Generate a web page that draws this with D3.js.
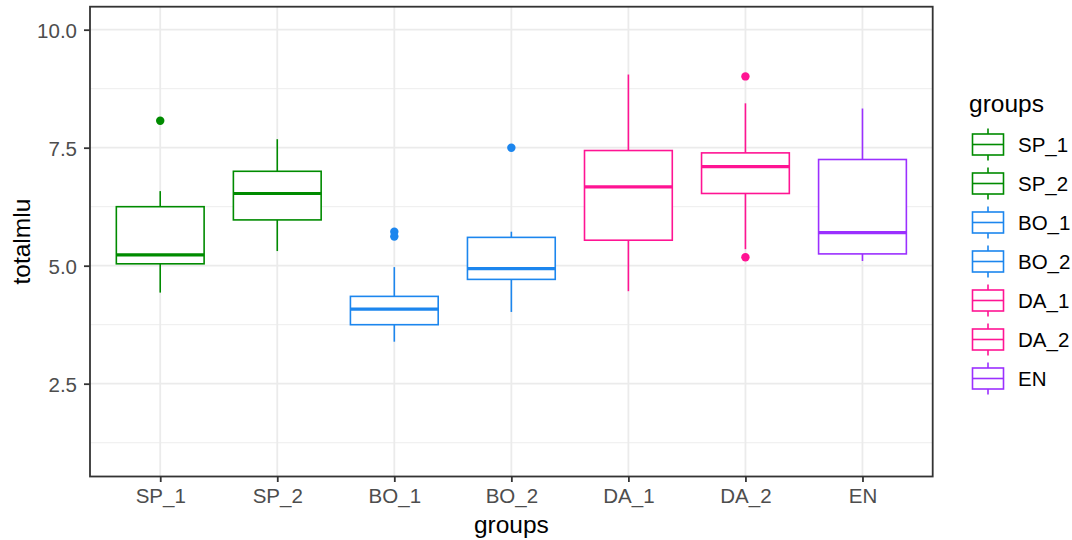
<!DOCTYPE html>
<html lang="en-US">
<head>
  <meta charset="UTF-8"/>
  <title>totalmlu by groups</title>
  <style>
    body { margin: 0; background: #fff; }
    svg text { font-family: "Liberation Sans", Arial, sans-serif; }
  </style>
</head>
<body>
<svg id="chart" width="1072" height="540"></svg>
<script src="https://cdn.jsdelivr.net/npm/d3@7"></script>
<script>
// data
var groups      = ["SP_1", "SP_2", "BO_1", "BO_2", "DA_1", "DA_2", "EN"];
var colors      = ["#008B00", "#008B00", "#1C86EE", "#1C86EE", "#FF1493", "#FF1493", "#9B30FF"];
var lowWhisker  = [4.43, 5.31, 3.39, 4.02, 4.46, 5.35, 5.10];
var q1          = [5.04, 5.97, 3.75, 4.71, 5.54, 6.53, 5.25];
var median      = [5.23, 6.53, 4.08, 4.94, 6.67, 7.10, 5.70];
var q3          = [6.25, 7.00, 4.35, 5.60, 7.44, 7.39, 7.25];
var highWhisker = [6.58, 7.68, 4.97, 5.72, 9.05, 8.44, 8.33];
var outliers    = [[8.07], [], [5.72, 5.62], [7.50], [], [9.01, 5.18], []];
var yTicks      = [2.5, 5.0, 7.5, 10.0];
var yMinor      = [1.25, 3.75, 6.25, 8.75];

// panel box
var panel = {left: 90, right: 932.7, top: 6.7, bottom: 476.5};

var svg = d3.select("#chart");

var x = d3.scalePoint().domain(groups).range([panel.left, panel.right]).padding(0.6);
var y = d3.scaleLinear().domain([0.534, 10.487]).range([panel.bottom, panel.top]);
var step = x.step();
var boxW = step * 0.75;

var boxes = groups.map(function(g, i) {
  return {g: g, c: colors[i], lo: lowWhisker[i], q1: q1[i], med: median[i],
          q3: q3[i], hi: highWhisker[i], out: outliers[i]};
});

// grid
var grid = svg.append("g");
grid.selectAll(".minor").data(yMinor).enter().append("line")
    .attr("x1", panel.left).attr("x2", panel.right)
    .attr("y1", function(d) { return y(d); }).attr("y2", function(d) { return y(d); })
    .attr("stroke", "#EBEBEB").attr("stroke-width", 0.9);
grid.selectAll(".major").data(yTicks).enter().append("line")
    .attr("x1", panel.left).attr("x2", panel.right)
    .attr("y1", function(d) { return y(d); }).attr("y2", function(d) { return y(d); })
    .attr("stroke", "#EBEBEB").attr("stroke-width", 1.8);
grid.selectAll(".vmajor").data(groups).enter().append("line")
    .attr("y1", panel.top).attr("y2", panel.bottom)
    .attr("x1", function(d) { return x(d); }).attr("x2", function(d) { return x(d); })
    .attr("stroke", "#EBEBEB").attr("stroke-width", 1.8);

// boxplots
var bx = svg.append("g").selectAll("g").data(boxes).enter().append("g");
bx.append("line")
    .attr("x1", function(d) { return x(d.g); }).attr("x2", function(d) { return x(d.g); })
    .attr("y1", function(d) { return y(d.hi); }).attr("y2", function(d) { return y(d.q3); })
    .attr("stroke", function(d) { return d.c; }).attr("stroke-width", 1.6);
bx.append("line")
    .attr("x1", function(d) { return x(d.g); }).attr("x2", function(d) { return x(d.g); })
    .attr("y1", function(d) { return y(d.q1); }).attr("y2", function(d) { return y(d.lo); })
    .attr("stroke", function(d) { return d.c; }).attr("stroke-width", 1.6);
bx.append("rect")
    .attr("x", function(d) { return x(d.g) - boxW / 2; })
    .attr("width", boxW)
    .attr("y", function(d) { return y(d.q3); })
    .attr("height", function(d) { return y(d.q1) - y(d.q3); })
    .attr("fill", "#fff")
    .attr("stroke", function(d) { return d.c; }).attr("stroke-width", 1.6);
bx.append("line")
    .attr("x1", function(d) { return x(d.g) - boxW / 2; }).attr("x2", function(d) { return x(d.g) + boxW / 2; })
    .attr("y1", function(d) { return y(d.med); }).attr("y2", function(d) { return y(d.med); })
    .attr("stroke", function(d) { return d.c; }).attr("stroke-width", 3.2);
bx.selectAll("circle").data(function(d) { return d.out.map(function(v) { return {g: d.g, c: d.c, v: v}; }); })
  .enter().append("circle")
    .attr("cx", function(d) { return x(d.g); })
    .attr("cy", function(d) { return y(d.v); })
    .attr("r", 4.2)
    .attr("fill", function(d) { return d.c; });

// panel border
svg.append("rect")
    .attr("x", panel.left).attr("y", panel.top)
    .attr("width", panel.right - panel.left).attr("height", panel.bottom - panel.top)
    .attr("fill", "none").attr("stroke", "#333333").attr("stroke-width", 1.8);

// axes
var yAxis = svg.append("g")
    .attr("transform", "translate(" + panel.left + ",0)")
    .call(d3.axisLeft(y).tickValues(yTicks).tickFormat(d3.format(".1f")).tickSizeInner(6).tickSizeOuter(0).tickPadding(7));
var xAxis = svg.append("g")
    .attr("transform", "translate(0," + panel.bottom + ")")
    .call(d3.axisBottom(x).tickSizeInner(5.5).tickSizeOuter(0).tickPadding(6));
[xAxis, yAxis].forEach(function(a) {
  a.select(".domain").remove();
  a.selectAll(".tick line").attr("stroke", "#333333").attr("stroke-width", 1.8);
  a.selectAll(".tick text").attr("fill", "#4D4D4D").style("font-size", "20.5px")
    .style("font-family", "'Liberation Sans', Arial, sans-serif");
});
yAxis.selectAll(".tick text").attr("dy", "0.36em");
xAxis.selectAll(".tick text").attr("dy", "0.71em");

// axis titles
svg.append("text")
    .attr("x", (panel.left + panel.right) / 2).attr("y", 533)
    .attr("text-anchor", "middle").style("font-size", "24.5px").attr("fill", "#000")
    .text("groups");
svg.append("text")
    .attr("transform", "translate(30," + (panel.top + panel.bottom) / 2 + ") rotate(-90)")
    .attr("text-anchor", "middle").style("font-size", "24.5px").attr("fill", "#000")
    .text("totalmlu");

// legend
var legend = svg.append("g");
legend.append("text").attr("x", 969).attr("y", 111.5)
    .style("font-size", "24.5px").attr("fill", "#000").text("groups");
var keyY = d3.scalePoint().domain(groups).range([144.5, 378.5]);
var key = legend.selectAll(".key").data(boxes).enter().append("g")
    .attr("transform", function(d) { return "translate(988," + keyY(d.g) + ")"; });
key.append("line").attr("x1", 0).attr("x2", 0).attr("y1", -16).attr("y2", 16)
    .attr("stroke", function(d) { return d.c; }).attr("stroke-width", 1.6);
key.append("rect").attr("x", -15.5).attr("y", -10.5).attr("width", 31).attr("height", 21)
    .attr("fill", "#fff").attr("stroke", function(d) { return d.c; }).attr("stroke-width", 1.6);
key.append("line").attr("x1", -15.5).attr("x2", 15.5).attr("y1", 0).attr("y2", 0)
    .attr("stroke", function(d) { return d.c; }).attr("stroke-width", 1.6);
key.append("text").attr("x", 30).attr("dy", "0.36em")
    .style("font-size", "20.5px").attr("fill", "#000")
    .text(function(d) { return d.g; });
</script>
</body>
</html>
